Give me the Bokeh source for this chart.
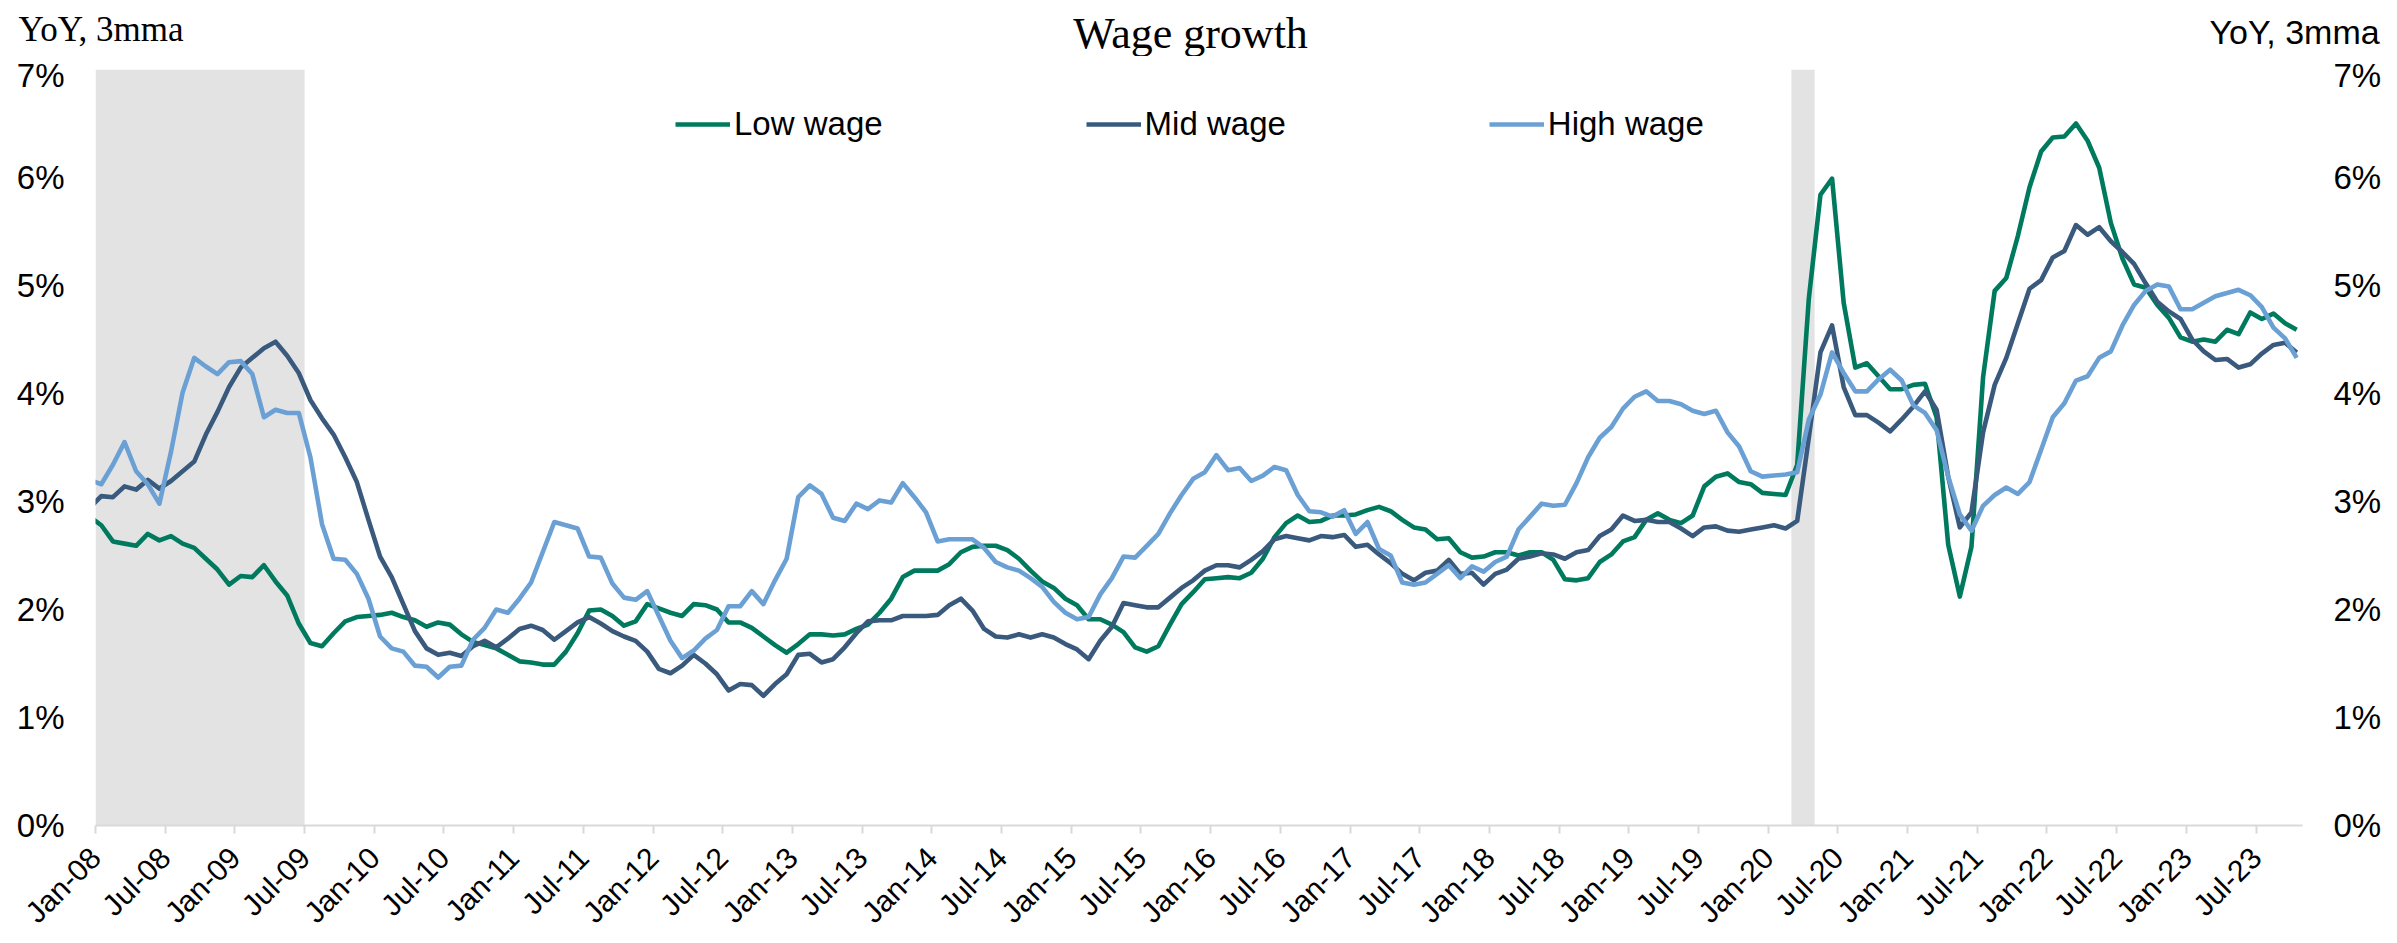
from math import pi
from bokeh.plotting import figure
from bokeh.models import Range1d, FixedTicker, LinearAxis, PrintfTickFormatter
from bokeh.core.properties import value
from bokeh.embed import file_html
from bokeh.resources import INLINE

# ---------------- data (monthly, 3mma YoY %, first point = Dec-07) ----------------
first_month = "2007-12"

low_wage = [
    2.86,
    2.78, 2.63, 2.61, 2.59, 2.70, 2.64, 2.68, 2.61, 2.57, 2.47, 2.37, 2.23,
    2.31, 2.30, 2.41, 2.26, 2.13, 1.87, 1.69, 1.66, 1.78, 1.89, 1.93, 1.94,
    1.95, 1.97, 1.93, 1.90, 1.84, 1.88, 1.86, 1.77, 1.70, 1.67, 1.64, 1.58,
    1.52, 1.51, 1.49, 1.49, 1.61, 1.78, 1.99, 2.00, 1.94, 1.85, 1.89, 2.05,
    2.01, 1.97, 1.94, 2.05, 2.04, 2.00, 1.88, 1.88, 1.83, 1.75, 1.67, 1.60,
    1.68, 1.77, 1.77, 1.76, 1.77, 1.82, 1.86, 1.97, 2.10, 2.30, 2.36, 2.36,
    2.36, 2.42, 2.53, 2.58, 2.59, 2.59, 2.55, 2.47, 2.36, 2.26, 2.20, 2.10,
    2.04, 1.91, 1.91, 1.86, 1.79, 1.65, 1.61, 1.66, 1.86, 2.05, 2.16, 2.28,
    2.29, 2.30, 2.29, 2.34, 2.47, 2.67, 2.80, 2.87, 2.81, 2.82, 2.87, 2.87,
    2.88, 2.92, 2.95, 2.91, 2.83, 2.76, 2.74, 2.65, 2.66, 2.53, 2.48, 2.49,
    2.53, 2.53, 2.50, 2.53, 2.53, 2.46, 2.28, 2.27, 2.29, 2.44, 2.51, 2.63,
    2.67, 2.83, 2.89, 2.83, 2.80, 2.87, 3.14, 3.23, 3.26, 3.18, 3.16, 3.08,
    3.07, 3.06, 3.34, 4.88, 5.84, 5.99, 4.84, 4.24, 4.28, 4.16, 4.04, 4.04,
    4.08, 4.09, 3.78, 2.60, 2.12, 2.58, 4.15, 4.95, 5.07, 5.46, 5.91, 6.24,
    6.37, 6.38, 6.50, 6.34, 6.09, 5.58, 5.25, 5.01, 4.98, 4.82, 4.70, 4.52,
    4.48, 4.50, 4.48, 4.59, 4.55, 4.75, 4.69, 4.74, 4.65, 4.59,
]

mid_wage = [
    2.94,
    3.05, 3.04, 3.14, 3.11, 3.20, 3.12, 3.19, 3.28, 3.37, 3.62, 3.83, 4.06,
    4.24, 4.33, 4.42, 4.48, 4.35, 4.19, 3.94, 3.77, 3.62, 3.41, 3.18, 2.83,
    2.49, 2.30, 2.05, 1.80, 1.64, 1.58, 1.60, 1.57, 1.66, 1.71, 1.65, 1.73,
    1.82, 1.85, 1.81, 1.72, 1.80, 1.88, 1.93, 1.87, 1.80, 1.75, 1.71, 1.61,
    1.45, 1.41, 1.48, 1.58, 1.50, 1.40, 1.25, 1.31, 1.30, 1.20, 1.31, 1.40,
    1.58, 1.59, 1.51, 1.54, 1.65, 1.78, 1.89, 1.90, 1.90, 1.94, 1.94, 1.94,
    1.95, 2.04, 2.10, 1.99, 1.82, 1.75, 1.74, 1.77, 1.74, 1.77, 1.74, 1.68,
    1.63, 1.54, 1.71, 1.84, 2.06, 2.04, 2.02, 2.02, 2.11, 2.20, 2.27, 2.36,
    2.41, 2.41, 2.39, 2.46, 2.54, 2.65, 2.68, 2.66, 2.64, 2.68, 2.67, 2.69,
    2.58, 2.60, 2.51, 2.43, 2.33, 2.27, 2.34, 2.36, 2.46, 2.33, 2.34, 2.23,
    2.33, 2.37, 2.47, 2.49, 2.52, 2.51, 2.47, 2.53, 2.55, 2.68, 2.74, 2.87,
    2.82, 2.83, 2.81, 2.81, 2.75, 2.68, 2.76, 2.77, 2.73, 2.72, 2.74, 2.76,
    2.78, 2.75, 2.82, 3.59, 4.38, 4.63, 4.06, 3.80, 3.80, 3.73, 3.65, 3.76,
    3.88, 4.02, 3.85, 3.23, 2.76, 2.90, 3.64, 4.08, 4.33, 4.65, 4.97, 5.05,
    5.26, 5.32, 5.56, 5.47, 5.54, 5.41, 5.31, 5.20, 5.02, 4.85, 4.76, 4.69,
    4.50, 4.39, 4.31, 4.32, 4.24, 4.27, 4.37, 4.45, 4.47, 4.38,
]

high_wage = [
    3.20,
    3.16, 3.34, 3.55, 3.28, 3.16, 2.98, 3.46, 4.01, 4.33, 4.25, 4.18, 4.29,
    4.30, 4.18, 3.78, 3.85, 3.82, 3.82, 3.41, 2.79, 2.47, 2.46, 2.33, 2.10,
    1.75, 1.64, 1.61, 1.48, 1.47, 1.37, 1.47, 1.48, 1.72, 1.83, 2.00, 1.97,
    2.10, 2.25, 2.53, 2.81, 2.78, 2.75, 2.49, 2.48, 2.24, 2.11, 2.09, 2.17,
    1.94, 1.71, 1.55, 1.62, 1.73, 1.81, 2.03, 2.03, 2.17, 2.05, 2.27, 2.47,
    3.04, 3.15, 3.07, 2.85, 2.82, 2.98, 2.93, 3.01, 2.99, 3.17, 3.04, 2.90,
    2.63, 2.65, 2.65, 2.65, 2.57, 2.44, 2.39, 2.36, 2.29, 2.21, 2.07, 1.97,
    1.91, 1.93, 2.14, 2.29, 2.49, 2.48, 2.59, 2.70, 2.89, 3.06, 3.21, 3.27,
    3.43, 3.29, 3.31, 3.19, 3.24, 3.32, 3.29, 3.06, 2.91, 2.90, 2.86, 2.92,
    2.70, 2.81, 2.56, 2.50, 2.25, 2.23, 2.25, 2.33, 2.41, 2.29, 2.40, 2.35,
    2.44, 2.49, 2.74, 2.86, 2.98, 2.96, 2.97, 3.17, 3.41, 3.59, 3.69, 3.86,
    3.97, 4.02, 3.93, 3.93, 3.90, 3.84, 3.81, 3.84, 3.64, 3.51, 3.28, 3.23,
    3.24, 3.25, 3.27, 3.76, 3.99, 4.38, 4.19, 4.02, 4.02, 4.13, 4.22, 4.12,
    3.89, 3.82, 3.66, 3.23, 2.88, 2.73, 2.96, 3.06, 3.13, 3.07, 3.18, 3.48,
    3.78, 3.91, 4.12, 4.16, 4.33, 4.39, 4.63, 4.82, 4.95, 5.01, 4.99, 4.78,
    4.78, 4.84, 4.90, 4.93, 4.96, 4.91, 4.80, 4.61, 4.51, 4.33,
]

tick_labels = [
    "Jan-08", "Jul-08", "Jan-09", "Jul-09", "Jan-10", "Jul-10", "Jan-11", "Jul-11",
    "Jan-12", "Jul-12", "Jan-13", "Jul-13", "Jan-14", "Jul-14", "Jan-15", "Jul-15",
    "Jan-16", "Jul-16", "Jan-17", "Jul-17", "Jan-18", "Jul-18", "Jan-19", "Jul-19",
    "Jan-20", "Jul-20", "Jan-21", "Jul-21", "Jan-22", "Jul-22", "Jan-23", "Jul-23",
]
y_ticks = [0, 1, 2, 3, 4, 5, 6, 7]

# shaded periods (start month, end month)
shaded_periods = [("2008-01", "2009-07"), ("2020-03", "2020-05")]
axis_end_month = "2023-11"

series_names = ["Low wage", "Mid wage", "High wage"]
series_colors = ["#007A5E", "#3A5A7D", "#6BA0D5"]

title_text = "Wage growth"
left_unit_text = "YoY, 3mma"
right_unit_text = "YoY, 3mma"

# ---------------- helpers ----------------
def month_index(s):
    y, m = map(int, s.split("-"))
    return (y - 2008) * 12 + (m - 1)

def drop_title(fig):
    try:
        fig.title = None
    except Exception:
        fig.title.visible = False

n = len(low_wage)
assert n == len(mid_wage) == len(high_wage)
x0 = month_index(first_month)
xs = [x0 + i + 0.5 for i in range(n)]  # mid-month positions
tick_pos = [month_index("2008-01") + 6 * k for k in range(len(tick_labels))]

TOTAL_W = 2397
HEAD_H = 56
MAIN_H = 943 - HEAD_H
FRAME_L, FRAME_R = 95, 95
FRAME_TOP = 13
FRAME_H = 757

# ---------------- header (title + unit labels), separate root ----------------
head = figure(width=TOTAL_W, height=HEAD_H, x_range=Range1d(0, TOTAL_W), y_range=Range1d(HEAD_H, 0),
              x_axis_location=None, y_axis_location=None, min_border=0,
              output_backend="svg", toolbar_location=None)
drop_title(head)
head.outline_line_color = None
head.xgrid.visible = False
head.ygrid.visible = False
head.text(x=[2209], y=[31], text=[right_unit_text], text_font=value("Arial"),
          text_font_size="34px", text_color="black", text_align="left", text_baseline="alphabetic")
head.text(x=[18], y=[28.5], text=[left_unit_text], text_font=value("Liberation Serif"),
          text_font_size="35px", text_color="black", text_align="left", text_baseline="alphabetic")
head.text(x=[1190], y=[32.5], text=[title_text], text_font=value("Liberation Serif"),
          text_font_size="44px", text_color="black", text_align="center", text_baseline="alphabetic")

# ---------------- main chart ----------------
p = figure(
    width=TOTAL_W, height=MAIN_H,
    min_border_left=FRAME_L, min_border_right=FRAME_R, min_border_top=FRAME_TOP,
    min_border_bottom=MAIN_H - FRAME_TOP - FRAME_H,
    x_range=Range1d(0, month_index(axis_end_month)), y_range=Range1d(0, 7),
    output_backend="svg", toolbar_location=None,
)
drop_title(p)
p.outline_line_color = None
p.xgrid.visible = False
p.ygrid.visible = False

p.quad(left=[month_index(a) for a, b in shaded_periods],
       right=[month_index(b) for a, b in shaded_periods],
       bottom=0, top=7, fill_color="#E3E3E3", line_color=None)

for name, vals, col in zip(series_names, [low_wage, mid_wage, high_wage], series_colors):
    p.line(xs, vals, line_color=col, line_width=4.6, line_join="round", legend_label=name)

xa = p.xaxis[0]
xa.ticker = FixedTicker(ticks=tick_pos)
xa.major_label_overrides = {t: lab for t, lab in zip(tick_pos, tick_labels)}
xa.major_label_orientation = pi / 4
xa.axis_line_color = "#D9D9D9"
xa.axis_line_width = 2
xa.major_tick_line_color = "#D9D9D9"
xa.major_tick_line_width = 2
xa.major_tick_in = 0
xa.major_tick_out = 8
xa.minor_tick_line_color = None
xa.major_label_standoff = 19
xa.major_label_text_font = "Liberation Sans"
xa.major_label_text_font_size = "30px"
xa.major_label_text_color = "black"

def style_y(ax):
    ax.ticker = FixedTicker(ticks=y_ticks)
    ax.formatter = PrintfTickFormatter(format="%d%%")
    ax.axis_line_color = None
    ax.major_tick_line_color = None
    ax.minor_tick_line_color = None
    ax.major_tick_in = 0
    ax.major_tick_out = 0
    ax.major_label_standoff = 31
    ax.major_label_text_font = "Liberation Sans"
    ax.major_label_text_font_size = "33px"
    ax.major_label_text_color = "black"

style_y(p.yaxis[0])
ry = LinearAxis()
style_y(ry)
p.add_layout(ry, "right")

lg = p.legend[0]
lg.orientation = "horizontal"
lg.location = (580, FRAME_H - 75)
lg.label_text_font = "Liberation Sans"
lg.label_text_font_size = "33px"
lg.label_text_color = "black"
lg.glyph_width = 55
lg.label_standoff = 4
lg.spacing = 203
lg.padding = 0
lg.margin = 0
lg.border_line_color = None
lg.background_fill_alpha = 0

open("out.html", "w").write(file_html([head, p], INLINE))
